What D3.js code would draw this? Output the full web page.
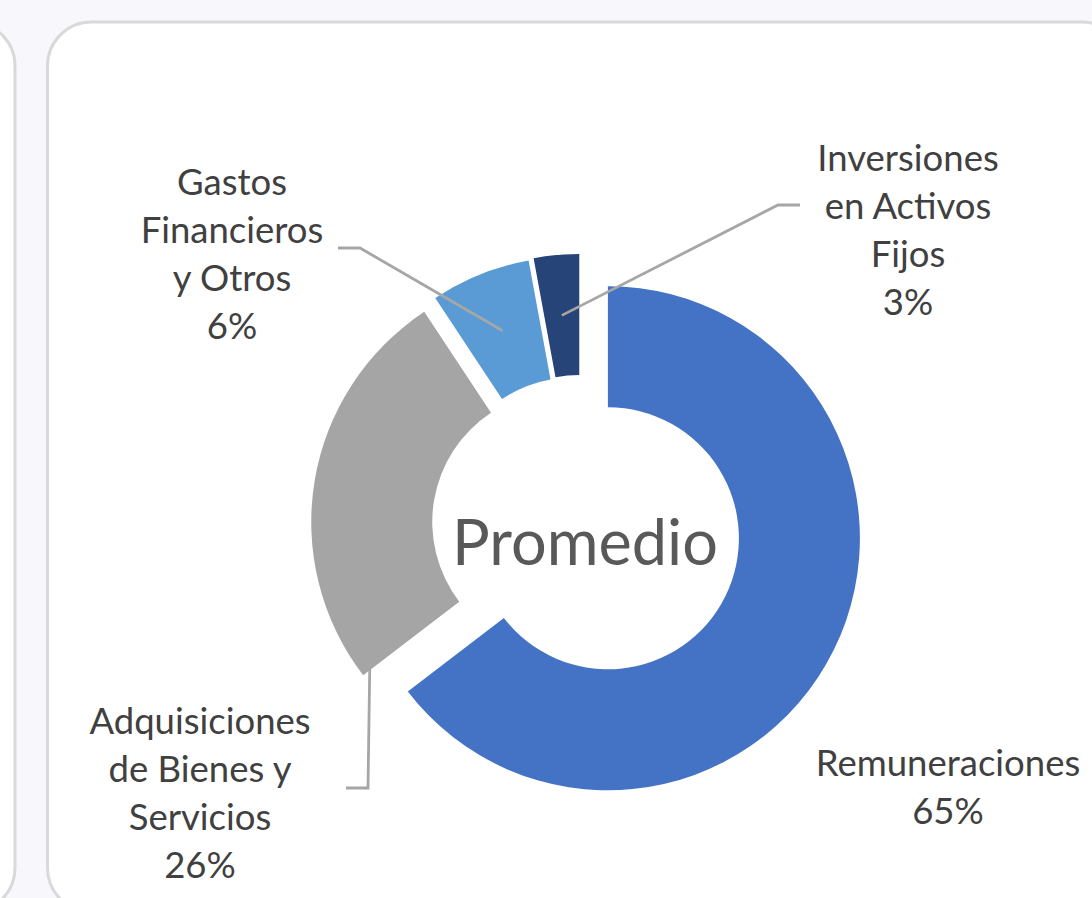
<!DOCTYPE html>
<html>
<head>
<meta charset="utf-8">
<script src="https://cdn.jsdelivr.net/npm/d3@7"></script>
<style>
  html, body { margin: 0; padding: 0; background: #f8f8fc; }
  svg { display: block; }
  .lbl { font-family: Lato, "Open Sans", sans-serif; fill: #404040; }
</style>
</head>
<body>
<script>
// data
const categories = ['Remuneraciones', 'Adquisiciones de Bienes y Servicios', 'Gastos Financieros y Otros', 'Inversiones en Activos Fijos'];
const shares = [64.6, 26.1, 6.4, 2.9];
const labelLines = [
  ['Remuneraciones', '65%'],
  ['Adquisiciones', 'de Bienes y', 'Servicios', '26%'],
  ['Gastos', 'Financieros', 'y Otros', '6%'],
  ['Inversiones', 'en Activos', 'Fijos', '3%']
];
const centerText = 'Promedio';

const colors = ['#4472c4', '#a5a5a5', '#5b9bd5', '#264478'];
const explode = [30, 18, 18, 19];

const width = 1092;
const height = 898;
const cx = 581, cy = 525;
const outerR = 252, innerR = 131;

const svg = d3.select('body')
  .append('svg')
    .attr('width', width)
    .attr('height', height);

// cards
svg.append('rect')
  .attr('x', -80).attr('y', 22)
  .attr('width', 95).attr('height', 890)
  .attr('rx', 44)
  .attr('fill', '#fff').attr('stroke', '#d9d9d9').attr('stroke-width', 3);
svg.append('rect')
  .attr('x', 47.5).attr('y', 22)
  .attr('width', 1078).attr('height', 890)
  .attr('rx', 44)
  .attr('fill', '#fff').attr('stroke', '#d9d9d9').attr('stroke-width', 3);

const pie = d3.pie().sort(null).value(d => d)(shares);
const arc = d3.arc().innerRadius(innerR).outerRadius(outerR);

const offset = (d, i) => {
  const a = (d.startAngle + d.endAngle) / 2;
  return [cx + explode[i] * Math.sin(a), cy - explode[i] * Math.cos(a)];
};

svg.selectAll('path.slice')
  .data(pie)
  .enter()
  .append('path')
    .attr('class', 'slice')
    .attr('transform', (d, i) => `translate(${offset(d, i)})`)
    .attr('d', arc)
    .attr('fill', (d, i) => colors[i]);

// label layout: text centre x, first line y, and leader points toward the label
const labelPos = [
  { x: 948, y: 762, leader: null },
  { x: 200, y: 720, leader: [[346, 788], [368, 788]], at: 'corner' },
  { x: 232, y: 181, leader: [[338, 248], [360, 248]], at: 'centroid' },
  { x: 908, y: 157, leader: [[800, 205], [778, 205]], at: 'centroid' }
];
const lineGap = 48;

pie.forEach((d, i) => {
  const p = labelPos[i];
  if (p.leader) {
    const [ox, oy] = offset(d, i);
    let sx, sy;
    if (p.at === 'centroid') {
      const c = arc.centroid(d);
      sx = ox + c[0]; sy = oy + c[1];
    } else {
      const a = d.startAngle + 0.02;
      const r = outerR - 12;
      sx = ox + r * Math.sin(a); sy = oy - r * Math.cos(a);
    }
    svg.append('path')
      .attr('d', d3.line()([...p.leader, [sx, sy]]))
      .attr('fill', 'none')
      .attr('stroke', '#a6a6a6')
      .attr('stroke-width', 2.8);
  }
  svg.append('g')
    .selectAll('text')
    .data(labelLines[i])
    .enter()
    .append('text')
      .attr('class', 'lbl')
      .attr('x', p.x)
      .attr('y', (t, j) => p.y + j * lineGap)
      .attr('text-anchor', 'middle')
      .attr('dominant-baseline', 'central')
      .attr('font-size', 36.5)
      .text(t => t);
});

svg.append('text')
  .attr('class', 'lbl')
  .attr('x', 585)
  .attr('y', 540)
  .attr('text-anchor', 'middle')
  .attr('dominant-baseline', 'central')
  .attr('font-size', 63)
  .style('fill', '#595959')
  .text(centerText);
</script>
</body>
</html>
